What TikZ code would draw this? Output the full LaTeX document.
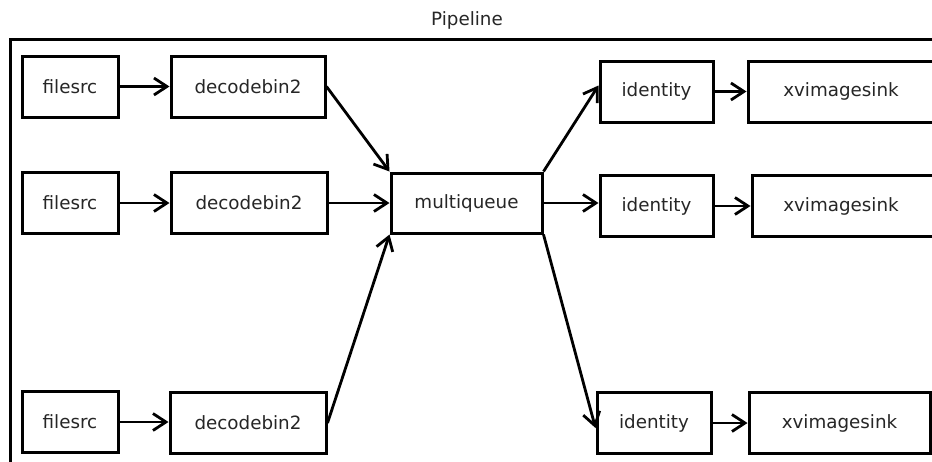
\documentclass[tikz,border=0pt]{standalone}
\usepackage{fontspec}
\setmainfont{DejaVu Sans}
\usetikzlibrary{arrows.meta,calc}
\tikzset{
  elem/.style={draw=black, line width=3pt, fill=white, minimum height=61pt, inner sep=0pt,
    font=\fontsize{18.3}{22}\selectfont, text=black!85},
  conn/.style={line width=2.8pt, -{Straight Barb[length=13pt,width=17pt,line width=2.8pt]}},
}
\begin{document}
\begin{tikzpicture}[x=1pt,y=-1pt]
\useasboundingbox (0,0) rectangle (932,461);
\begin{scope}
\clip (0,0) rectangle (932,461);
\draw[line width=3pt] (1000,600) -- (10,600) -- (10,39) -- (1000,39);
\node[font=\fontsize{18.3}{22}\selectfont, text=black!85] (title) at (467,20) {Pipeline};

\node[elem, minimum width=96pt]  (fs1) at (70,86.5) {filesrc};
\node[elem, minimum width=96pt]  (fs2) at (70,203) {filesrc};
\node[elem, minimum width=96pt]  (fs3) at (70,422) {filesrc};

\node[elem, minimum width=154pt] (db1) at (248,86.5) {decodebin2};
\node[elem, minimum width=156pt] (db2) at (249,203) {decodebin2};
\node[elem, minimum width=156pt] (db3) at (248,423) {decodebin2};

\node[elem, minimum width=151pt, minimum height=60pt] (mq) at (466.5,203) {multiqueue};

\node[elem, minimum width=113pt] (id1) at (656.5,91.5) {identity};
\node[elem, minimum width=113pt] (id2) at (656.5,206) {identity};
\node[elem, minimum width=114pt] (id3) at (654,423) {identity};

\node[elem, minimum width=186pt] (xv1) at (841,91.5) {};
\node[elem, minimum width=182pt] (xv2) at (843,206) {};
\node[elem, minimum width=181pt] (xv3) at (839.5,423) {xvimagesink};
\node[font=\fontsize{18.3}{22}\selectfont, text=black!85] (xv1t) at (841,91.5) {xvimagesink};
\node[font=\fontsize{18.3}{22}\selectfont, text=black!85] (xv2t) at (841,206) {xvimagesink};

\draw[conn] (fs1.east) -- (fs1.east -| db1.west);
\draw[conn] (fs2.east) -- (fs2.east -| db2.west);
\draw[conn] (fs3.east) -- (fs3.east -| db3.west);

\draw[conn] (db1.east) -- (mq.north west);
\draw[conn] (db2.east) -- (mq.west);
\draw[conn] (db3.east) -- (mq.south west);

\draw[conn] (mq.north east) -- ([yshift=6pt]id1.west);
\draw[conn] (mq.east) -- (mq.east -| id2.west);
\draw[conn] (mq.south east) -- ([yshift=-5pt]id3.west);

\draw[conn] (id1.east) -- (id1.east -| xv1.west);
\draw[conn] (id2.east) -- (id2.east -| xv2.west);
\draw[conn] (id3.east) -- (id3.east -| xv3.west);
\end{scope}
\end{tikzpicture}
\end{document}
